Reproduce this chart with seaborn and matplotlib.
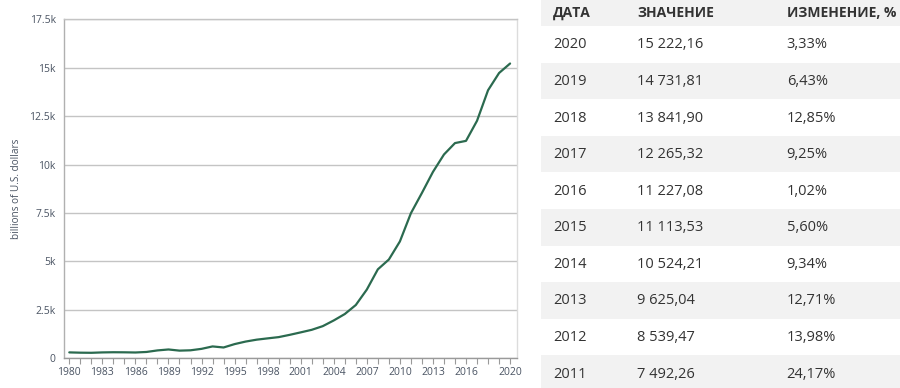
import matplotlib
matplotlib.use("Agg")
import matplotlib.pyplot as plt
import seaborn as sns
import pandas as pd
from matplotlib.ticker import MultipleLocator
from matplotlib.patches import Rectangle

# ---------------- data ----------------
years = list(range(1980, 2021))
gdp = [305, 290, 284, 304, 313, 309, 300, 327, 407, 456,
       396, 413, 488, 613, 559, 733, 864, 962, 1029, 1094,
       1211, 1339, 1471, 1660, 1955, 2286, 2752, 3550, 4594, 5101,
       6034, 7492.26, 8539.47, 9625.04, 10524.21, 11113.53, 11227.08,
       12265.32, 13841.90, 14731.81, 15222.16]

xtick_years = [1980, 1983, 1986, 1989, 1992, 1995, 1998, 2001, 2004,
               2007, 2010, 2013, 2016, 2020]
ytick_values = [0, 2500, 5000, 7500, 10000, 12500, 15000, 17500]
ytick_labels = ["0", "2.5k", "5k", "7.5k", "10k", "12.5k", "15k", "17.5k"]
y_label = "billions of U.S. dollars"

table_header = ["ДАТА", "ЗНАЧЕНИЕ", "ИЗМЕНЕНИЕ, %"]
table_years = [2020, 2019, 2018, 2017, 2016, 2015, 2014, 2013, 2012, 2011]
table_values = [15222.16, 14731.81, 13841.90, 12265.32, 11227.08,
                11113.53, 10524.21, 9625.04, 8539.47, 7492.26]
table_changes = [3.33, 6.43, 12.85, 9.25, 1.02, 5.60, 9.34, 12.71, 13.98, 24.17]

# ---------------- style ----------------
sns.set_style("white")
plt.rcParams["font.family"] = ["Open Sans", "DejaVu Sans"]

LINE = "#2b6a4f"
TICK = "#4a5463"
GRID = "#c4c4c4"
TXT = "#333333"
BAND = "#f2f2f2"

W, H = 900, 388
fig = plt.figure(figsize=(W / 100, H / 100), dpi=100)

# ---------------- line chart ----------------
L, R, T, B = 64, 516.7, 19.4, 358.3
ax = fig.add_axes([L / W, 1 - B / H, (R - L) / W, (B - T) / H])
df = pd.DataFrame({"year": years, "gdp": gdp})
sns.lineplot(data=df, x="year", y="gdp", ax=ax, color=LINE, linewidth=1.6)

ax.set_xlim(1979.52, 2020.6)
ax.set_ylim(0, 17500)
ax.set_yticks(ytick_values)
ax.set_yticklabels(ytick_labels)
ax.set_xticks(xtick_years)
ax.set_xticklabels([str(y) for y in xtick_years])
ax.xaxis.set_minor_locator(MultipleLocator(1))

ax.grid(axis="y", color=GRID, linewidth=1.0)
ax.grid(axis="x", visible=False)
ax.set_axisbelow(True)

ax.tick_params(axis="y", length=0, pad=6, labelsize=7.5, labelcolor=TICK)
ax.tick_params(axis="x", which="both", length=4, width=0.8, color="#9a9a9a",
               direction="out", pad=2, labelsize=7.5, labelcolor=TICK, bottom=True)

ax.spines["left"].set_color("#b0b0b0")
ax.spines["left"].set_linewidth(1.0)
ax.spines["right"].set_color("#dcdcdc")
ax.spines["right"].set_linewidth(1.0)
ax.spines["top"].set_color(GRID)
ax.spines["top"].set_linewidth(1.0)
ax.spines["bottom"].set_color("#9a9a9a")
ax.spines["bottom"].set_linewidth(1.0)

ax.set_xlabel("")
ax.set_ylabel(y_label, fontsize=7.2, color=TICK)
ax.yaxis.set_label_coords((22 - L) / (R - L), 0.5)

# ---------------- table ----------------
TX0 = 541
tax = fig.add_axes([TX0 / W, 0, (W - TX0) / W, 1])
tax.set_xlim(0, W - TX0)
tax.set_ylim(H, 0)
tax.axis("off")

header_h = 26
row_h = 36.6
col_x = [12.3, 96.3, 245.7]

tax.add_patch(Rectangle((0, 0), W - TX0, header_h, color=BAND, lw=0))
for j, h in enumerate(table_header):
    tax.text(col_x[j], header_h / 2, h, ha="left", va="center",
             fontsize=10.0, fontweight="bold", color=TXT)


def fmt_num(v):
    return f"{v:,.2f}".replace(",", " ").replace(".", ",")


def fmt_pct(v):
    return f"{v:.2f}".replace(".", ",") + "%"


for i, (yr, val, chg) in enumerate(zip(table_years, table_values, table_changes)):
    top = header_h + i * row_h
    if i % 2 == 1:
        tax.add_patch(Rectangle((0, top), W - TX0, row_h, color=BAND, lw=0))
    cy = top + row_h / 2 + 0.5
    tax.text(col_x[0], cy, str(yr), ha="left", va="center", fontsize=10.5, color=TXT)
    tax.text(col_x[1], cy, fmt_num(val), ha="left", va="center", fontsize=10.5, color=TXT)
    tax.text(col_x[2], cy, fmt_pct(chg), ha="left", va="center", fontsize=10.5, color=TXT)

fig.savefig("out.png", dpi=100)
